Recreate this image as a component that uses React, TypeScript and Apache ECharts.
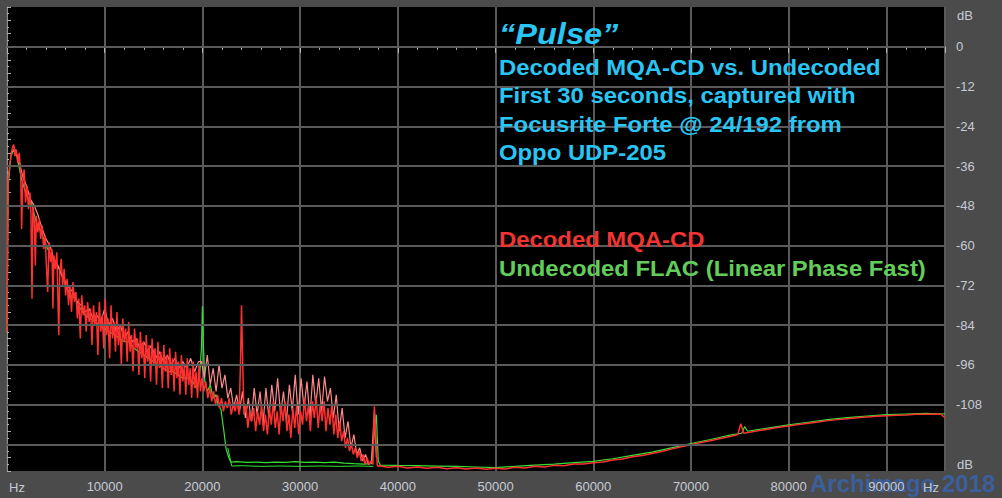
import React, { useEffect, useRef } from 'react';
import * as echarts from 'echarts';

// ---- Data (Hz, dB) ----
const redLow: [number, number][] = [
  [0, -86], [120, -40], [300, -35], [450, -32], [600, -30], [700, -29.5], [800, -33], [950, -31], [1100, -35], [1250, -32],
  [1400, -38], [1500, -55], [1600, -41], [1750, -37], [1900, -47], [2050, -42], [2200, -49], [2350, -44], [2450, -50], [2560, -76],
  [2650, -48], [2800, -53], [2900, -66], [3000, -51], [3150, -56], [3300, -52], [3450, -58], [3600, -54], [3750, -61], [3900, -57],
  [4000, -64], [4160, -74], [4300, -59], [4450, -65], [4600, -61], [4700, -79], [4800, -63], [4950, -67], [5100, -62], [5300, -87],
  [5400, -68], [5550, -64], [5700, -72], [5850, -67], [6000, -75], [6150, -70], [6300, -78], [6450, -72], [6600, -80], [6750, -71],
  [6900, -77], [7050, -74], [7200, -82], [7350, -76], [7500, -88], [7650, -75], [7800, -81], [7950, -78], [8100, -86], [8250, -77],
  [8400, -83], [8550, -79], [8700, -90], [8850, -78], [9000, -84], [9150, -80], [9300, -93], [9450, -77], [9600, -86], [9750, -81],
  [9900, -91], [10050, -76], [10200, -87], [10350, -82], [10500, -94], [10650, -78], [10800, -88], [10950, -83], [11100, -92], [11250, -80],
  [11400, -90], [11550, -84], [11700, -96], [11850, -82], [12000, -89], [12150, -85], [12300, -95], [12450, -83], [12600, -92], [12750, -87],
  [12900, -98], [13050, -85], [13200, -91], [13350, -88], [13500, -99], [13650, -86], [13800, -94], [13950, -89], [14100, -100], [14250, -87],
  [14400, -95], [14550, -90], [14700, -101], [14850, -88], [15000, -96], [15150, -91], [15300, -102], [15450, -89], [15600, -97], [15750, -92],
  [15900, -103], [16050, -90], [16200, -98], [16350, -93], [16500, -103], [16650, -91], [16800, -99], [16950, -94], [17100, -104], [17250, -92],
  [17400, -100], [17550, -95], [17700, -105], [17850, -93], [18000, -101], [18150, -96], [18300, -105], [18450, -94], [18600, -102], [18750, -97],
  [18900, -106], [19050, -95], [19200, -103], [19350, -98], [19500, -106], [19650, -96], [19800, -104],
];

const redMid: [number, number][] = [
  [19950, -100], [20150, -104], [20350, -101], [20550, -106], [20750, -103], [20950, -107], [21150, -104], [21350, -108], [21550, -105], [21750, -109],
  [21950, -106], [22150, -110], [22350, -107], [22550, -109], [22750, -106], [22950, -111], [23150, -108], [23350, -110], [23550, -107], [23750, -111],
  [23900, -95], [24000, -78], [24100, -92], [24250, -111], [24450, -108], [24650, -115], [24850, -110], [25050, -113], [25250, -109], [25450, -116],
  [25650, -110], [25850, -114], [26050, -108], [26250, -116], [26450, -111], [26650, -117], [26850, -109], [27050, -114], [27250, -107], [27450, -115],
  [27650, -110], [27850, -117], [28050, -108], [28250, -113], [28450, -107], [28650, -116], [28850, -111], [29050, -118], [29250, -109], [29450, -115],
  [29650, -108], [29850, -117], [30050, -110], [30250, -114], [30450, -106], [30650, -113], [30850, -108], [31050, -116], [31250, -107], [31450, -112],
  [31650, -106], [31850, -115], [32050, -108], [32250, -113], [32450, -107], [32650, -116], [32850, -109], [33050, -114], [33250, -108], [33450, -117],
  [33650, -111], [33850, -118], [34050, -113], [34250, -119], [34450, -116], [34650, -121], [34850, -118], [35050, -122], [35250, -120], [35450, -123],
  [35650, -121], [35850, -124], [36050, -122], [36250, -125], [36450, -123], [36650, -126], [36850, -124], [37050, -126], [37250, -125], [37450, -126],
  [37600, -108.5], [37750, -118], [37900, -126.5],
];

const redHigh: [number, number][] = [
  [38000, -126.4], [39000, -126.9], [40000, -126.6], [41000, -127.1], [42000, -126.8], [43000, -127.2], [44000, -126.9], [45000, -127.3], [46000, -127], [47000, -127.4],
  [48000, -127.1], [49000, -127.5], [50000, -127.2], [51000, -127.4], [52000, -126.9], [53000, -127.1], [54000, -126.6], [55000, -126.8], [56000, -126.3], [57000, -126.4],
  [58000, -125.9], [59000, -125.9], [60000, -125.5], [61000, -125.3], [62000, -124.7], [63000, -124.4], [64000, -123.7], [65000, -123.3], [66000, -122.7], [67000, -122.1],
  [68000, -121.4], [69000, -120.7], [70000, -120.1], [71000, -119.4], [72000, -118.9], [73000, -118.2], [74000, -117.6], [74800, -117], [75100, -113.7], [75400, -116.6],
  [76000, -116.3], [77000, -115.8], [78000, -115.3], [79000, -114.8], [80000, -114.4], [81000, -114], [82000, -113.6], [83000, -113.2], [84000, -112.8], [85000, -112.5],
  [86000, -112.2], [87000, -111.9], [88000, -111.7], [89000, -111.5], [90000, -111.3], [91000, -111.2], [92000, -111.1], [93000, -110.9], [94000, -110.9], [95000, -110.8],
  [95600, -110.9], [96000, -112],
];

// second (lighter) channel of the decoded trace
const redUpper: [number, number][] = [
  [400, -32], [800, -31], [1200, -34], [1600, -39], [2000, -42], [2400, -46], [2800, -48], [3200, -51], [3600, -55], [4000, -58],
  [4400, -60], [4800, -64], [5200, -66], [5600, -69], [6000, -71], [6400, -73], [6800, -74], [7200, -77], [7600, -78], [8000, -80],
  [8400, -79], [8800, -82], [9200, -81], [9600, -83], [10000, -79], [10400, -84], [10800, -82], [11200, -86], [11600, -84], [12000, -88],
  [12400, -86], [12800, -89], [13200, -88], [13600, -91], [14000, -89], [14400, -92], [14800, -90], [15200, -94], [15600, -92], [16000, -95],
  [16400, -93], [16800, -96], [17200, -94], [17600, -97], [18000, -95], [18400, -97], [18800, -94], [19200, -98], [19600, -95],
  [19900, -95], [20200, -100], [20500, -93], [20800, -102], [21100, -97], [21400, -104], [21700, -96], [22000, -103], [22300, -99], [22600, -106],
  [22900, -103], [23200, -109], [23500, -105], [23800, -110], [24100, -104], [24400, -112], [24700, -106], [25000, -113], [25300, -103], [25600, -111],
  [25900, -104], [26200, -114], [26500, -103], [26800, -112], [27100, -102], [27400, -110], [27700, -100], [28000, -111], [28300, -104], [28600, -113],
  [28900, -102], [29200, -110], [29500, -99], [29800, -111], [30100, -100], [30400, -109], [30700, -101], [31000, -112], [31300, -99], [31600, -108],
  [31900, -100], [32200, -110], [32500, -99.5], [32800, -107], [33100, -103], [33400, -112], [33700, -105], [34000, -116], [34300, -109], [34600, -118],
  [34900, -113], [35200, -121], [35500, -117], [35800, -123], [36100, -121], [36400, -125], [36700, -123], [37000, -126], [37300, -125], [37600, -110],
  [37800, -124],
];

const greenMain: [number, number][] = [
  [0, -86], [120, -42], [400, -33], [700, -31], [1000, -33], [1500, -40], [2000, -45], [2500, -47], [3000, -53], [3500, -56],
  [4000, -60], [4500, -63], [5000, -65], [5500, -68], [6000, -72], [6500, -75], [7000, -76], [7500, -79], [8000, -81], [8500, -82],
  [9000, -83], [9500, -84], [10000, -85], [10500, -86], [11000, -87], [11500, -88], [12000, -89], [12500, -89], [13000, -91], [13500, -92],
  [14000, -93], [14500, -94], [15000, -95], [15500, -96], [16000, -97], [16500, -98], [17000, -98], [17500, -99], [18000, -100], [18500, -100],
  [19000, -101], [19400, -103], [19700, -100], [19900, -91], [20000, -78.3], [20100, -90], [20250, -101], [20500, -104], [20800, -102], [21100, -106],
  [21400, -105], [21600, -108], [21900, -109.5], [22200, -116], [22400, -121], [22700, -124], [22900, -125.3], [23500, -125.2], [24500, -125.4], [25500, -125.3],
  [26500, -125.5], [27500, -125.3], [28500, -125.4], [29500, -125.2], [30500, -125.4], [31500, -125.3], [32500, -125.5], [33500, -125.3], [34500, -125.6], [35500, -125.8],
  [36500, -125.9], [37300, -125.8], [37550, -118], [37800, -111], [38000, -125], [38200, -126.2], [40000, -126.3], [42000, -126.4], [44000, -126.5], [46000, -126.6],
  [48000, -126.8], [50000, -127], [52000, -126.6], [54000, -126.2], [56000, -125.9], [58000, -125.5], [60000, -125.1], [62000, -124.3], [64000, -123.3], [66000, -122.3],
  [68000, -121], [70000, -119.7], [72000, -118.5], [74000, -117.2], [75200, -116.6], [75500, -114.6], [75800, -116], [78000, -115], [80000, -114.1], [82000, -113.3],
  [84000, -112.5], [86000, -111.9], [88000, -111.4], [90000, -111], [92000, -110.8], [94000, -110.6], [96000, -110.8],
];

const greenSecond: [number, number][] = [
  [22600, -121], [23000, -126.5], [24000, -126.4], [26000, -126.6], [28000, -126.5], [30000, -126.6], [32000, -126.5], [34000, -126.6], [36000, -126.5], [37500, -126.6],
];

const gridDb = [0, -12, -24, -36, -48, -60, -72, -84, -96, -108, -120];

const titleText = '“Pulse”';
const infoLines = [
  'Decoded MQA-CD vs. Undecoded',
  'First 30 seconds, captured with',
  'Focusrite Forte @ 24/192 from',
  'Oppo UDP-205',
];
const legendRed = 'Decoded MQA-CD';
const legendGreen = 'Undecoded FLAC (Linear Phase Fast)';
const watermark = 'Archimago 2018';

const FONT = '"Liberation Sans", Arial, sans-serif';

export default function App() {
  const ref = useRef<HTMLDivElement>(null);
  useEffect(() => {
    document.body.style.margin = '0';
    const chart = echarts.init(ref.current!, null, { renderer: 'svg' });
    const infoY = [67.5, 95.5, 124, 152.5];
    const txt = (text: string, x: number, y: number, fill: string, font: string) => ({
      type: 'text',
      x,
      y,
      z: 100,
      scaleX: 1.085,
      silent: true,
      style: {
        text,
        fill,
        font,
        align: 'left',
        textAlign: 'left',
        verticalAlign: 'middle',
        textVerticalAlign: 'middle',
      },
    });
    const small = (text: string, x: number, y: number) => ({
      type: 'text', x, y, z: 100, silent: true,
      style: { text, fill: '#c6cad4', font: `13px ${FONT}`, align: 'left', textAlign: 'left', verticalAlign: 'middle', textVerticalAlign: 'middle' },
    });
    const option: any = {
      animation: false,
      backgroundColor: '#4b4b4b',
      grid: { left: 7, right: 57, top: 7, bottom: 27, show: true, backgroundColor: '#000000', borderWidth: 0 },
      xAxis: {
        type: 'value',
        min: 0,
        max: 96000,
        interval: 10000,
        axisLine: { show: true, lineStyle: { color: '#a8a8a8', width: 1 } },
        axisTick: { show: true, length: 6, lineStyle: { color: '#b8b8b8' } },
        minorTick: { show: true, splitNumber: 5, length: 3, lineStyle: { color: '#b8b8b8' } },
        splitLine: { show: true, lineStyle: { color: '#5a5a5a', width: 2 } },
        axisLabel: {
          color: '#c6cad4',
          fontSize: 13,
          fontFamily: FONT,
          margin: 9,
          formatter: (v: number) => (v === 0 || v >= 96000 ? '' : String(v)),
        },
      },
      yAxis: {
        type: 'value',
        position: 'right',
        min: -128,
        max: 12,
        interval: 4,
        axisLine: { show: true, lineStyle: { color: '#8c8c8c' } },
        axisTick: { show: true, length: 4, lineStyle: { color: '#b0b0b0' } },
        minorTick: { show: true, splitNumber: 2, length: 2, lineStyle: { color: '#b0b0b0' } },
        splitLine: { show: false },
        axisLabel: {
          color: '#c6cad4',
          fontSize: 13,
          fontFamily: FONT,
          margin: 11,
          padding: [6, 0, 0, 0],
          formatter: (v: number) => (v <= 0 && v >= -108 && v % 12 === 0 ? String(v) : ''),
        },
      },
      graphic: [
        { type: 'text', x: 810, y: 483, z: -10, silent: true, style: { text: watermark, fill: '#3b5f9c', font: `bold 24px ${FONT}`, align: 'left', textAlign: 'left', verticalAlign: 'middle', textVerticalAlign: 'middle' } },
        txt(titleText, 499, 34, '#29c6f5', `italic bold 30px ${FONT}`),
        ...infoLines.map((l, i) => txt(l, 499, infoY[i], '#29c6f5', `bold 22px ${FONT}`)),
        txt(legendRed, 499, 239.5, '#f03434', `bold 22px ${FONT}`),
        txt(legendGreen, 499, 268, '#62cd5a', `bold 22px ${FONT}`),
        small('dB', 957, 15),
        small('dB', 957, 464),
        small('Hz', 9, 487),
        small('Hz', 923, 487),
      ],
      series: [
        {
          type: 'line',
          name: 'grid',
          data: [],
          z: 1,
          silent: true,
          markLine: {
            silent: true,
            symbol: ['none', 'none'],
            label: { show: false },
            lineStyle: { color: '#5a5a5a', width: 2, type: 'solid' },
            data: gridDb.map((v) => ({ yAxis: v })),
          },
        },
        {
          type: 'line', name: 'Undecoded FLAC B', data: greenSecond, showSymbol: false, symbol: 'none', z: 2,
          lineStyle: { color: '#35e035', width: 1 },
        },
        {
          type: 'line', name: 'Undecoded FLAC (Linear Phase Fast)', data: greenMain, showSymbol: false, symbol: 'none', z: 2,
          lineStyle: { color: '#35e035', width: 1.2 },
        },
        {
          type: 'line', name: 'Decoded MQA-CD B', data: redUpper, showSymbol: false, symbol: 'none', z: 3,
          lineStyle: { color: '#ff8a8a', width: 1.2 },
        },
        {
          type: 'line', name: 'Decoded MQA-CD', data: [...redLow, ...redMid, ...redHigh], showSymbol: false, symbol: 'none', z: 4,
          lineStyle: { color: '#ff3030', width: 1.5 },
        },
      ],
    };
    chart.setOption(option);
    return () => chart.dispose();
  }, []);
  return <div ref={ref} style={{ width: 1002, height: 498 }} />;
}
